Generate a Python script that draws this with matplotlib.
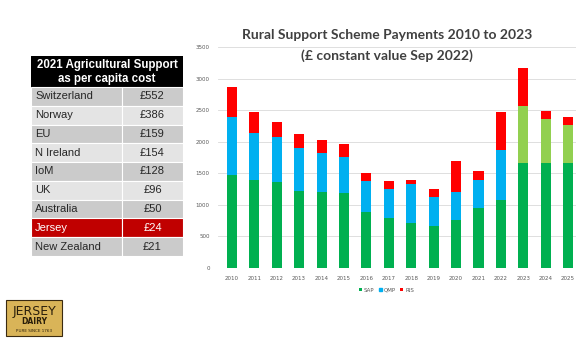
import matplotlib.pyplot as plt
from matplotlib.patches import Rectangle, Wedge
import numpy as np

# chart data (£ thousands)
years = [str(y) for y in range(2010, 2026)]
sap = [1479, 1400, 1363, 1217, 1196, 1185, 881, 787, 718, 661, 760, 954, 1070, 1668, 1668, 1668]
qmp = [907, 740, 719, 681, 629, 566, 493, 466, 619, 466, 451, 446, 802, 896, 697, 592]
ris = [482, 335, 225, 226, 204, 205, 136, 121, 63, 132, 483, 136, 598, 598, 126, 131]

# table data
countries = ['Switzerland', 'Norway', 'EU', 'N Ireland', 'IoM', 'UK', 'Australia', 'Jersey', 'New Zealand']
per_capita = ['£552', '£386', '£159', '£154', '£128', '£96', '£50', '£24', '£21']

W, H = 587, 340
fig = plt.figure(figsize=(W / 100, H / 100), dpi=100)
fig.patch.set_facecolor('white')


def fig_box(x0, y0, x1, y1):
    # pixel box (top-left origin) -> figure fraction
    return [x0 / W, 1 - y1 / H, (x1 - x0) / W, (y1 - y0) / H]


# ---- stacked bar chart ----
ax = fig.add_axes(fig_box(218, 47, 576, 268))
x = np.arange(len(years))
qmp_cols = ['#00b0f0'] * 13 + ['#92d050'] * 3
ax.bar(x, sap, width=0.45, color='#00b050', label='SAP', zorder=3)
ax.bar(x, qmp, width=0.45, bottom=sap, color=qmp_cols, label='QMP', zorder=3)
ax.bar(x, ris, width=0.45, bottom=np.add(sap, qmp), color='#ff0000', label='RIS', zorder=3)
ax.set_xlim(-0.62, 15.35)
ax.set_ylim(0, 3500)
ax.set_yticks(range(0, 3501, 500))
ax.set_xticks(x, years)
ax.tick_params(length=0, labelsize=4, labelcolor='#595959', pad=6)
ax.grid(axis='y', color='#d9d9d9', lw=0.6, zorder=0)
for s in ax.spines.values():
    s.set_visible(False)
ax.axhline(0, color='#d9d9d9', lw=0.6, zorder=1)
leg = ax.legend(loc='center', bbox_to_anchor=(0.47, -0.1), ncol=3, frameon=False,
                fontsize=4, labelcolor='#595959', handlelength=0.6, handleheight=0.6,
                handletextpad=0.3, columnspacing=0.8)
leg.legend_handles[1].set_color('#00b0f0')

fig.text(387 / W, 1 - 35 / H, 'Rural Support Scheme Payments 2010 to 2023',
         ha='center', va='center', fontsize=10, fontweight='bold', color='#404040', family='Lato')
fig.text(387 / W, 1 - 56 / H, '(£ constant value Sep 2022)',
         ha='center', va='center', fontsize=10, fontweight='bold', color='#404040', family='Lato')

# ---- table ----
tx = fig.add_axes(fig_box(31, 56, 183, 256))
tx.set_xlim(0, 152)
tx.set_ylim(200, 0)
tx.axis('off')
head_h = 31
row_h = (200 - head_h) / len(countries)
split = 91
tx.add_patch(Rectangle((0, 0), 152, head_h, color='black'))
tx.text(76, head_h * 0.3, '2021 Agricultural Support', ha='center', va='center',
        color='white', fontsize=8.3, fontweight='bold', family='Liberation Sans')
tx.text(76, head_h * 0.74, 'as per capita cost', ha='center', va='center',
        color='white', fontsize=8.3, fontweight='bold', family='Liberation Sans')
for i, (c, v) in enumerate(zip(countries, per_capita)):
    y0 = head_h + i * row_h
    if c == 'Jersey':
        fc, tc = '#c00000', 'white'
    else:
        fc, tc = ('#cbcbcb' if i % 2 == 0 else '#e4e4e4'), '#262626'
    tx.add_patch(Rectangle((0, y0), split, row_h, facecolor=fc, edgecolor='white', lw=0.8))
    tx.add_patch(Rectangle((split, y0), 152 - split, row_h, facecolor=fc, edgecolor='white', lw=0.8))
    tx.text(4, y0 + row_h / 2, c, ha='left', va='center', color=tc, fontsize=8, family='Liberation Sans')
    tx.text(split + (152 - split) / 2, y0 + row_h / 2, v, ha='center', va='center',
            color=tc, fontsize=8, family='Liberation Sans')

# ---- logo ----
lx = fig.add_axes(fig_box(4, 286, 64, 338))
lx.set_xlim(0, 60)
lx.set_ylim(52, 0)
lx.axis('off')
lx.add_patch(Wedge((30, 16), 11, 0, 180, facecolor='#d4aa4a', edgecolor='#3a2a10', lw=0.8))
lx.add_patch(Rectangle((2, 14), 56, 36, facecolor='#d9b458', edgecolor='#3a2a10', lw=0.8))
lx.text(30, 25, 'JERSEY', ha='center', va='center', fontsize=9, color='#2a1e0a', family='Liberation Sans Narrow')
lx.text(30, 36, 'DAIRY', ha='center', va='center', fontsize=5.5, fontweight='bold', color='#2a1e0a')
lx.text(30, 45, 'PURE SINCE 1763', ha='center', va='center', fontsize=3, color='#2a1e0a')

fig.savefig('out.png', dpi=100)
